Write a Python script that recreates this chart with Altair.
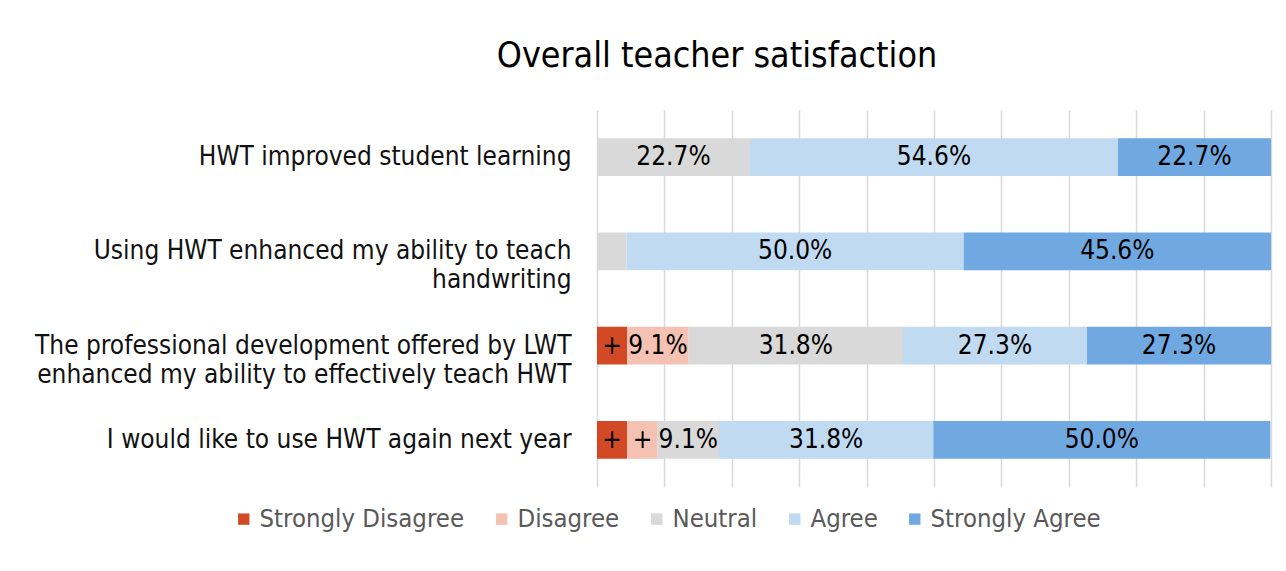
import altair as alt
import pandas as pd

questions = [
    "HWT improved student learning",
    "Using HWT enhanced my ability to teach|handwriting",
    "The professional development offered by LWT|enhanced my ability to effectively teach HWT",
    "I would like to use HWT again next year",
]
levels = ["Strongly Disagree", "Disagree", "Neutral", "Agree", "Strongly Agree"]
colors = ["#D24A25", "#F4C1B2", "#D9D9D9", "#C0DAF2", "#70A9E1"]

strongly_disagree = [0.0, 0.0, 4.5, 4.5]
disagree = [0.0, 0.0, 9.1, 4.5]
neutral = [22.7, 4.4, 31.8, 9.1]
agree = [54.6, 50.0, 27.3, 31.8]
strongly_agree = [22.7, 45.6, 27.3, 50.0]

lab_strongly_disagree = ["", "", "+", "+"]
lab_disagree = ["", "", "9.1%", "+"]
lab_neutral = ["22.7%", "", "31.8%", "9.1%"]
lab_agree = ["54.6%", "50.0%", "27.3%", "31.8%"]
lab_strongly_agree = ["22.7%", "45.6%", "27.3%", "50.0%"]

series = [strongly_disagree, disagree, neutral, agree, strongly_agree]
series_labels = [lab_strongly_disagree, lab_disagree, lab_neutral, lab_agree, lab_strongly_agree]

rows = []
for li, (lvl, vals, labs) in enumerate(zip(levels, series, series_labels)):
    for q, v, lab in zip(questions, vals, labs):
        rows.append({"question": q, "level": lvl, "ord": li, "value": v, "label": lab})
df = pd.DataFrame(rows)

FONT = "DejaVu Sans Condensed, DejaVu Sans"

base = alt.Chart(df).transform_stack(
    stack="value", groupby=["question"], as_=["x0", "x1"], sort=[alt.SortField("ord")]
).transform_calculate(mid="(datum.x0 + datum.x1) / 2")

y_enc = alt.Y(
    "question:N",
    sort=questions,
    title=None,
    scale=alt.Scale(paddingInner=0.6, paddingOuter=0.3),
    axis=alt.Axis(
        labelExpr="split(datum.label, '|')",
        labelFont=FONT,
        labelFontSize=26,
        labelColor="#111111",
        labelPadding=26,
        labelLineHeight=29,
        labelLimit=600,
        ticks=False,
        domain=False,
        grid=False,
    ),
)

bars = base.mark_bar().encode(
    x=alt.X(
        "x0:Q",
        scale=alt.Scale(domain=[0, 100], nice=False),
        title=None,
        axis=alt.Axis(
            values=[0, 10, 20, 30, 40, 50, 60, 70, 80, 90, 100],
            labels=False,
            ticks=False,
            domain=False,
            grid=True,
            gridColor="#D9D9D9",
            gridWidth=1.5,
        ),
    ),
    x2="x1:Q",
    y=y_enc,
    color=alt.Color(
        "level:N",
        sort=levels,
        scale=alt.Scale(domain=levels, range=colors),
        legend=alt.Legend(
            title=None,
            orient="none",
            direction="horizontal",
            legendX=-366,
            legendY=396,
            symbolType="square",
            symbolSize=130,
            symbolStrokeWidth=0,
            labelFont=FONT,
            labelFontSize=25.5,
            labelColor="#595959",
            labelOffset=3,
            labelLimit=400,
            columnPadding=24,
        ),
    ),
)

texts = base.mark_text(font=FONT, fontSize=26, color="#000000").encode(
    x="mid:Q",
    y=alt.Y("question:N", sort=questions),
    text="label:N",
)

chart = (
    alt.layer(bars, texts)
    .properties(
        width=674,
        height=377,
        title=alt.TitleParams(
            "Overall teacher satisfaction",
            font=FONT,
            fontSize=35.5,
            fontWeight="normal",
            color="#000000",
            anchor="middle",
            dx=-217,
            offset=36,
        ),
        autosize=alt.AutoSizeParams(type="none"),
        padding={"left": 589, "top": 102, "right": 4, "bottom": 60},
    )
    .configure_view(stroke=None)
)

chart.save("out.html", embed_options={"renderer": "svg", "actions": False})
